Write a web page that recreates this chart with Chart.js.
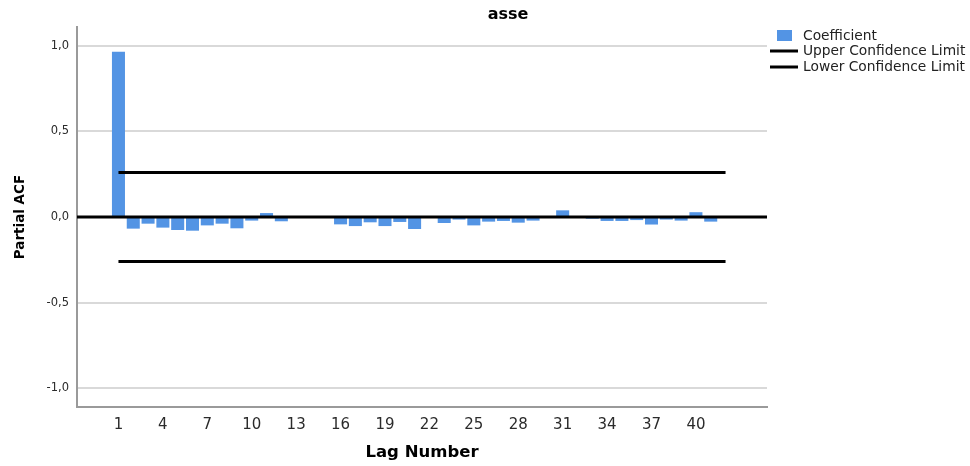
<!DOCTYPE html>
<html>
<head>
<meta charset="utf-8">
<title>asse - Partial ACF</title>
<script src="https://cdn.jsdelivr.net/npm/chart.js@4.4.7/dist/chart.umd.min.js"></script>
<style>
    html, body { margin: 0; padding: 0; background: #fff; }
    #wrap { position: relative; width: 970px; height: 466px; }
</style>
</head>
<body>
<div id="wrap"><canvas id="chart"></canvas></div>
<script>
// Lags and partial autocorrelation coefficients
const lags = [1, 2, 3, 4, 5, 6, 7, 8, 9, 10, 11, 12, 13, 14, 15, 16, 17, 18, 19, 20, 21,
    22, 23, 24, 25, 26, 27, 28, 29, 30, 31, 32, 33, 34, 35, 36, 37, 38, 39, 40, 41, 42];
const pacf = [0.965, -0.068, -0.039, -0.062, -0.076, -0.080, -0.049, -0.039, -0.066, -0.021, 0.023,
    -0.025, 0, 0, 0, -0.043, -0.053, -0.031, -0.053, -0.029, -0.070,
    0, -0.035, -0.015, -0.049, -0.027, -0.023, -0.033, -0.021, 0, 0.039,
    0, -0.010, -0.023, -0.023, -0.018, -0.044, -0.015, -0.021, 0.028, -0.027, 0];
const upperLimit = 0.26;
const lowerLimit = -0.26;

// Tick labels
const xTicks = [1, 4, 7, 10, 13, 16, 19, 22, 25, 28, 31, 34, 37, 40];
const yTicks = [-1, -0.5, 0, 0.5, 1];

const BAR_COLOR = '#5394e4';
const FONT = '"DejaVu Sans", sans-serif';

const first = lags[0];
const last = lags[lags.length - 1];

// Title, axis titles, zero reference line and legend are drawn by hand
const decorations = {
    id: 'decorations',
    afterDatasetsDraw(chart) {
        const { ctx, chartArea, scales } = chart;
        ctx.save();

        // zero reference line across the whole plot
        const y0 = scales.y.getPixelForValue(0);
        ctx.strokeStyle = '#000';
        ctx.lineWidth = 3;
        ctx.beginPath();
        ctx.moveTo(chartArea.left, y0);
        ctx.lineTo(chartArea.right, y0);
        ctx.stroke();

        ctx.fillStyle = '#000';
        ctx.textAlign = 'center';
        ctx.textBaseline = 'middle';
        ctx.font = 'bold 16px ' + FONT;
        ctx.fillText('asse', 508, 15);

        ctx.font = 'bold 16.5px ' + FONT;
        ctx.fillText('Lag Number', 422, 453);

        ctx.save();
        ctx.translate(20, 217);
        ctx.rotate(-Math.PI / 2);
        ctx.font = 'bold 13.5px ' + FONT;
        ctx.fillText('Partial ACF', 0, 0);
        ctx.restore();

        // legend
        ctx.textAlign = 'left';
        ctx.font = '13.8px ' + FONT;
        ctx.fillStyle = '#222';
        ctx.fillText('Coefficient', 803, 36);
        ctx.fillText('Upper Confidence Limit', 803, 51);
        ctx.fillText('Lower Confidence Limit', 803, 67);

        ctx.fillStyle = BAR_COLOR;
        ctx.fillRect(777, 30, 15, 11);

        ctx.strokeStyle = '#000';
        ctx.lineWidth = 3;
        [51, 67].forEach(yy => {
            ctx.beginPath();
            ctx.moveTo(770, yy);
            ctx.lineTo(798, yy);
            ctx.stroke();
        });

        ctx.restore();
    }
};

const ctx = document.getElementById('chart').getContext('2d');
new Chart(ctx, {
    type: 'bar',
    data: {
        datasets: [
            {
                label: 'Coefficient',
                data: lags.map((l, i) => ({ x: l, y: pacf[i] })),
                backgroundColor: BAR_COLOR,
                borderWidth: 0,
                barPercentage: 0.88,
                categoryPercentage: 1,
                order: 2
            },
            {
                type: 'line',
                label: 'Upper Confidence Limit',
                data: [{ x: first, y: upperLimit }, { x: last, y: upperLimit }],
                borderColor: '#000',
                borderWidth: 3,
                pointRadius: 0,
                order: 1
            },
            {
                type: 'line',
                label: 'Lower Confidence Limit',
                data: [{ x: first, y: lowerLimit }, { x: last, y: lowerLimit }],
                borderColor: '#000',
                borderWidth: 3,
                pointRadius: 0,
                order: 1
            }
        ]
    },
    options: {
        responsive: true,
        maintainAspectRatio: false,
        animation: false,
        events: [],
        layout: { padding: { top: 27, right: 203, left: 0, bottom: 0 } },
        plugins: {
            legend: { display: false },
            title: { display: false },
            tooltip: { enabled: false }
        },
        scales: {
            x: {
                type: 'linear',
                offset: false,
                min: -1.8,
                max: 44.8,
                afterFit(scale) { scale.height = 59; },
                afterBuildTicks(scale) { scale.ticks = xTicks.map(v => ({ value: v })); },
                grid: { display: false, drawTicks: false },
                border: { display: true, color: '#9a9a9a', width: 2 },
                ticks: {
                    autoSkip: false,
                    maxRotation: 0,
                    padding: 9,
                    color: '#2b2b2b',
                    font: { family: FONT, size: 15 }
                }
            },
            y: {
                min: -1.11,
                max: 1.11,
                afterFit(scale) { scale.width = 77; },
                afterBuildTicks(scale) { scale.ticks = yTicks.map(v => ({ value: v })); },
                grid: {
                    drawTicks: false,
                    color: '#d9d9d9',
                    lineWidth: 2
                },
                border: { display: true, color: '#9a9a9a', width: 2 },
                ticks: {
                    padding: 8,
                    color: '#2b2b2b',
                    font: { family: FONT, size: 11.5 },
                    callback: v => v.toFixed(1).replace('.', ',')
                }
            }
        }
    },
    plugins: [decorations]
});
</script>
</body>
</html>
